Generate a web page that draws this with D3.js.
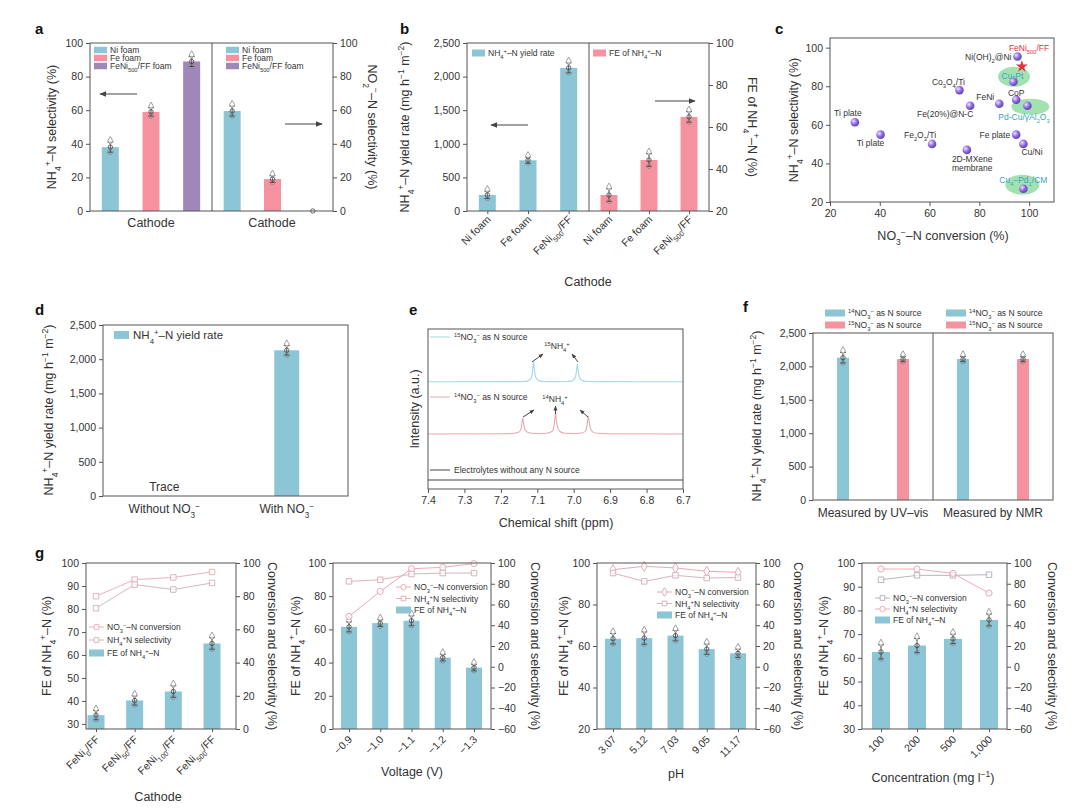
<!DOCTYPE html>
<html><head><meta charset="utf-8">
<script src="https://cdn.jsdelivr.net/npm/d3@7"></script>
<style>body{margin:0;background:#fff} svg{display:block}</style>
</head><body>
<script>
// ---------------- DATA ----------------
// panel a
const aCathodes = ['Ni foam', 'Fe foam', 'FeNi_{500}/FF foam'];
const aNH4Selectivity = [38, 59, 89];
const aNH4Err = [3, 2.5, 3];
const aNO2Selectivity = [59.5, 19, 0];
const aNO2Err = [3, 2, 0.5];
const aTicks = [0, 20, 40, 60, 80, 100];
// panel b
const bCathodes = ['Ni foam', 'Fe foam', 'FeNi_{500}/FF'];
const bYield = [240, 755, 2130];
const bYieldErr = [55, 45, 75];
const bFE = [27.6, 44.3, 64.8];
const bFEErr = [3, 3, 2.5];
const bYieldTicks = [0, 500, 1000, 1500, 2000, 2500];
const bFETicks = [20, 40, 60, 80, 100];
// panel c
const cCatalysts = ['Ti plate', 'Ti plate', 'Fe_2O_3/Ti', 'Co_3O_4/Ti', 'Fe(20%)@N-C', '2D-MXene|membrane',
  'FeNi', 'Ni(OH)_2@Ni', 'FeNi_{500}/FF', 'Cu-Pt', 'CoP', 'Pd-Cu/γAl_2O_3', 'Fe plate', 'Cu/Ni', 'Cu_4–Pd_1/CM'];
const cConversion = [30, 40.3, 61, 72, 76.3, 75, 88, 95.3, 97.1, 93.7, 94.8, 99.3, 94.8, 97.7, 97.7];
const cSelectivity = [61.3, 54.9, 50.1, 78, 69.9, 47, 70.9, 95.4, 90.2, 82.3, 73, 69.9, 54.9, 50.1, 26.9];
const cTicks = [20, 40, 60, 80, 100];
// panel d
const dConditions = ['Without NO_3^−', 'With NO_3^−'];
const dYield = [0, 2130];
const dErr = [0, 70];
// panel e (1H NMR spectra, chemical shift in ppm vs relative intensity)
const eShift15 = [7.40, 7.16, 7.14, 7.125, 7.12, 7.115, 7.112, 7.110, 7.108, 7.105, 7.10, 7.095, 7.08, 7.06,
  7.02, 7.005, 7.0, 6.995, 6.992, 6.990, 6.988, 6.985, 6.98, 6.975, 6.96, 6.93, 6.70];
const eInt15 = [0, 0.01, 0.02, 0.06, 0.13, 0.35, 0.8, 1.25, 0.8, 0.35, 0.13, 0.06, 0.02, 0.01,
  0.02, 0.06, 0.13, 0.33, 0.75, 1.1, 0.75, 0.33, 0.13, 0.06, 0.02, 0.01, 0];
const eShift14 = [7.40, 7.19, 7.165, 7.15, 7.145, 7.142, 7.140, 7.138, 7.134, 7.128, 7.115,
  7.09, 7.075, 7.06, 7.055, 7.052, 7.050, 7.048, 7.044, 7.038, 7.025,
  7.0, 6.985, 6.97, 6.965, 6.962, 6.960, 6.958, 6.954, 6.948, 6.935, 6.91, 6.70];
const eInt14 = [0, 0.01, 0.04, 0.12, 0.3, 0.7, 1.0, 0.7, 0.3, 0.12, 0.04,
  0.01, 0.04, 0.15, 0.4, 0.9, 1.3, 0.9, 0.4, 0.15, 0.04,
  0.01, 0.04, 0.13, 0.35, 0.8, 1.12, 0.8, 0.35, 0.13, 0.04, 0.01, 0];
const eShiftBlank = [7.40, 6.70];
const eIntBlank = [0, 0];
const eTicks = [7.4, 7.3, 7.2, 7.1, 7.0, 6.9, 6.8, 6.7];
// panel f
const fMethods = ['Measured by UV–vis', 'Measured by NMR'];
const fSources = ['^{14}NO_3^− as N source', '^{15}NO_3^− as N source'];
const fYield14 = [2130, 2110];
const fYield15 = [2110, 2110];
const fErr14 = [80, 40];
const fErr15 = [40, 40];
// panel g
const g1Cathodes = ['FeNi_0/FF', 'FeNi_{50}/FF', 'FeNi_{100}/FF', 'FeNi_{500}/FF'];
const g1FE = [33.8, 40.2, 44.1, 65];
const g1FEErr = [2, 2, 2.5, 2.5];
const g1Conversion = [80, 90, 91.3, 94.6];
const g1Selectivity = [72.8, 87, 84, 88];
const g2Voltage = ['−0.9', '−1.0', '−1.1', '−1.2', '−1.3'];
const g2FE = [61.5, 63.8, 65.2, 43, 37];
const g2FEErr = [3, 2, 3, 2, 2];
const g2Conversion = [48.5, 72.6, 94.5, 95.8, 99.4];
const g2Selectivity = [82.3, 83.9, 89.4, 90.3, 90.3];
const g3pH = ['3.07', '5.12', '7.03', '9.05', '11.17'];
const g3FE = [63.5, 63.8, 65, 58.5, 56.5];
const g3FEErr = [2.5, 3, 2.5, 2.5, 2];
const g3Conversion = [93.6, 96.8, 95.2, 92, 91];
const g3Selectivity = [90.3, 82.3, 88.1, 85.5, 86];
const g4Conc = ['100', '200', '500', '1,000'];
const g4FE = [62.5, 65.2, 68, 76];
const g4FEErr = [3, 3, 2, 2.5];
const g4Conversion = [83.9, 88.1, 88.1, 88.7];
const g4Selectivity = [94.2, 94.2, 90, 71];
const gRightTicks = [-60, -40, -20, 0, 20, 40, 60, 80, 100];

// ---------------- STYLE / HELPERS ----------------
const FONT = "'Liberation Sans', Arial, sans-serif";
const TXT = '#333', AX = '#555';
const BLUE = '#8cc5d6', PINK = '#f6929f', PURPLE = '#a087b9';

const svg = d3.select('body').append('svg').attr('width', 1080).attr('height', 811)
  .style('font-family', FONT);
svg.append('rect').attr('width', 1080).attr('height', 811).attr('fill', '#fff');
const defs = svg.append('defs');
function mk(id, w) {
  defs.append('marker').attr('id', id).attr('viewBox', '0 0 10 10').attr('refX', 9).attr('refY', 5)
    .attr('markerWidth', w).attr('markerHeight', w).attr('markerUnits', 'userSpaceOnUse').attr('orient', 'auto')
    .append('path').attr('d', 'M0,1 L10,5 L0,9 z').attr('fill', '#444');
}
mk('arr', 7); mk('arrS', 5);
const rg = defs.append('radialGradient').attr('id', 'ball').attr('cx', '35%').attr('cy', '35%').attr('r', '70%');
rg.append('stop').attr('offset', '0%').attr('stop-color', '#ece4ff');
rg.append('stop').attr('offset', '55%').attr('stop-color', '#8e68e2');
rg.append('stop').attr('offset', '100%').attr('stop-color', '#5a3bb5');

function rich(t, s) {
  let i = 0, buf = '';
  const flush = () => { if (buf) { t.append('tspan').text(buf); buf = ''; } };
  while (i < s.length) {
    const c = s[i];
    if ((c === '_' || c === '^') && i + 1 < s.length) {
      flush();
      let tok;
      if (s[i + 1] === '{') { const j = s.indexOf('}', i + 2); tok = s.slice(i + 2, j); i = j + 1; }
      else { tok = s[i + 1]; i += 2; }
      t.append('tspan').attr('baseline-shift', c === '_' ? 'sub' : 'super').attr('font-size', '68%').text(tok);
    } else { buf += c; i++; }
  }
  flush();
}
function txt(g, x, y, s, o = {}) {
  const t = g.append('text').attr('x', x).attr('y', y)
    .attr('font-size', o.size || 10).attr('fill', o.fill || TXT)
    .attr('text-anchor', o.anchor || 'start').attr('font-family', FONT);
  if (o.weight) t.attr('font-weight', o.weight);
  if (o.rotate != null) t.attr('transform', `rotate(${o.rotate},${x},${y})`);
  if (o.dy) t.attr('dy', o.dy);
  rich(t, s);
  return t;
}
function frame(g, x0, y0, x1, y1) {
  g.append('rect').attr('x', x0).attr('y', y0).attr('width', x1 - x0).attr('height', y1 - y0)
    .attr('fill', 'none').attr('stroke', AX).attr('stroke-width', 1);
}
function vline(g, x, y0, y1) {
  g.append('line').attr('x1', x).attr('x2', x).attr('y1', y0).attr('y2', y1).attr('stroke', AX).attr('stroke-width', 1);
}
function vAxis(g, scale, x, side, ticks, fmt) {
  const ax = (side === 'left' ? d3.axisLeft(scale) : d3.axisRight(scale)).tickValues(ticks)
    .tickSizeOuter(0).tickSizeInner(4).tickPadding(3).tickFormat(fmt);
  const a = g.append('g').attr('transform', `translate(${x},0)`).call(ax);
  a.select('.domain').remove();
  a.selectAll('.tick line').attr('stroke', AX);
  a.selectAll('.tick text').attr('font-size', 10.5).attr('fill', TXT).attr('font-family', FONT);
  return a;
}
function hAxis(g, scale, y, ticks, fmt, size) {
  const ax = d3.axisBottom(scale).tickSizeOuter(0).tickSizeInner(size || 3).tickPadding(4);
  if (ticks) ax.tickValues(ticks);
  ax.tickFormat(fmt || (() => ''));
  const a = g.append('g').attr('transform', `translate(0,${y})`).call(ax);
  a.select('.domain').remove();
  a.selectAll('.tick line').attr('stroke', AX);
  a.selectAll('.tick text').attr('font-size', 10.5).attr('fill', TXT).attr('font-family', FONT);
  return a;
}
function bar(g, cx, w, yTop, yBot, color) {
  g.append('rect').attr('x', cx - w / 2).attr('y', Math.min(yTop, yBot)).attr('width', w)
    .attr('height', Math.abs(yBot - yTop)).attr('fill', color);
}
function errBar(g, cx, sy, v, e) {
  const y1 = sy(v + e), y0 = sy(v - e);
  g.append('line').attr('x1', cx).attr('x2', cx).attr('y1', y1).attr('y2', y0).attr('stroke', '#333').attr('stroke-width', 0.8);
  [y1, y0].forEach(yy => g.append('line').attr('x1', cx - 3).attr('x2', cx + 3).attr('y1', yy).attr('y2', yy)
    .attr('stroke', '#333').attr('stroke-width', 0.8));
  g.append('path').attr('d', d3.symbol(d3.symbolDiamond, 20)()).attr('transform', `translate(${cx},${y1 - 1.5})`)
    .attr('fill', '#fff').attr('fill-opacity', 0.6).attr('stroke', '#888').attr('stroke-width', 0.8);
  g.append('circle').attr('cx', cx).attr('cy', sy(v)).attr('r', 2.2).attr('fill', 'none').attr('stroke', '#444').attr('stroke-width', 0.8);
  g.append('circle').attr('cx', cx).attr('cy', y0).attr('r', 2.2).attr('fill', 'none').attr('stroke', '#888').attr('stroke-width', 0.8);
}
function arrow(g, x1, y1, x2, y2, m) {
  g.append('line').attr('x1', x1).attr('y1', y1).attr('x2', x2).attr('y2', y2)
    .attr('stroke', '#444').attr('stroke-width', 1).attr('marker-end', `url(#${m || 'arr'})`);
}
function swatch(g, x, y, w, h, color) {
  g.append('rect').attr('x', x).attr('y', y - h / 2).attr('width', w).attr('height', h).attr('fill', color);
}
function letter(x, y, s) { txt(svg, x, y, s, { size: 15, weight: 'bold', fill: '#111' }); }
const fmtC = d3.format(',');
const fmtD = d3.format('d');

// ---------------- PANEL a ----------------
{
  const g = svg.append('g');
  const y = d3.scaleLinear().domain([0, 100]).range([211, 43]);
  const xL = d3.scalePoint().domain(aCathodes).range([90, 212]).padding(0.5);
  const xR = d3.scalePoint().domain(aCathodes).range([212, 333]).padding(0.5);
  const cols = [BLUE, PINK, PURPLE];
  aCathodes.forEach((c, i) => {
    bar(g, xL(c), 17, y(aNH4Selectivity[i]), y(0), cols[i]);
    bar(g, xR(c), 17, y(aNO2Selectivity[i]), y(0), cols[i]);
  });
  aCathodes.forEach((c, i) => {
    errBar(g, xL(c), y, aNH4Selectivity[i], aNH4Err[i]);
    if (aNO2Selectivity[i] > 0) errBar(g, xR(c), y, aNO2Selectivity[i], aNO2Err[i]);
    else g.append('circle').attr('cx', xR(c)).attr('cy', y(0)).attr('r', 2.2).attr('fill', '#fff').attr('stroke', '#444').attr('stroke-width', 0.8);
  });
  frame(g, 90, 43, 333, 211); vline(g, 212, 43, 211);
  vAxis(g, y, 90, 'left', aTicks, fmtD);
  vAxis(g, y, 333, 'right', aTicks, fmtD);
  [94, 226].forEach(lx => aCathodes.forEach((c, i) => {
    swatch(g, lx, 50 + i * 8, 13, 6.5, cols[i]);
    txt(g, lx + 16, 53 + i * 8, c, { size: 8.5 });
  }));
  arrow(g, 137, 94, 100, 94); arrow(g, 285, 124, 322, 124);
  txt(g, 151, 227, 'Cathode', { size: 12.5, anchor: 'middle' });
  txt(g, 272, 227, 'Cathode', { size: 12.5, anchor: 'middle' });
  txt(g, 52, 127, 'NH_4^+–N selectivity (%)', { size: 12.5, anchor: 'middle', rotate: -90, dy: '0.35em' });
  txt(g, 372, 127, 'NO_2^−–N selectivity (%)', { size: 12.5, anchor: 'middle', rotate: 90, dy: '0.35em' });
  letter(35, 34, 'a');
}

// ---------------- PANEL b ----------------
{
  const g = svg.append('g');
  const yL = d3.scaleLinear().domain([0, 2500]).range([211, 43]);
  const yR = d3.scaleLinear().domain([20, 100]).range([211, 43]);
  const xL = d3.scalePoint().domain(bCathodes).range([467, 589]).padding(0.5);
  const xR = d3.scalePoint().domain(bCathodes).range([589, 709]).padding(0.5);
  bCathodes.forEach((c, i) => {
    bar(g, xL(c), 17, yL(bYield[i]), yL(0), BLUE);
    bar(g, xR(c), 17, yR(bFE[i]), yR(20), PINK);
  });
  bCathodes.forEach((c, i) => {
    errBar(g, xL(c), yL, bYield[i], bYieldErr[i]);
    errBar(g, xR(c), yR, bFE[i], bFEErr[i]);
  });
  frame(g, 467, 43, 709, 211); vline(g, 589, 43, 211);
  vAxis(g, yL, 467, 'left', bYieldTicks, fmtC);
  vAxis(g, yR, 709, 'right', bFETicks, fmtD);
  hAxis(g, xL, 211); hAxis(g, xR, 211);
  bCathodes.forEach(c => {
    txt(g, xL(c) + 4, 220, c, { size: 10.5, anchor: 'end', rotate: -45 });
    txt(g, xR(c) + 4, 220, c, { size: 10.5, anchor: 'end', rotate: -45 });
  });
  swatch(g, 472, 53, 13, 7, BLUE); txt(g, 488, 56, 'NH_4^+–N yield rate', { size: 8.5 });
  swatch(g, 593, 53, 13, 7, PINK); txt(g, 609, 56, 'FE of NH_4^+–N', { size: 8.5 });
  arrow(g, 528, 125, 491, 125); arrow(g, 655, 101, 695, 101);
  txt(g, 588, 286, 'Cathode', { size: 12.5, anchor: 'middle' });
  txt(g, 405, 127, 'NH_4^+–N yield rate (mg h^{−1} m^{−2})', { size: 12.5, anchor: 'middle', rotate: -90, dy: '0.35em' });
  txt(g, 752, 127, 'FE of NH_4^+–N (%)', { size: 12.5, anchor: 'middle', rotate: 90, dy: '0.35em' });
  letter(400, 34, 'b');
}

// ---------------- PANEL c ----------------
{
  const g = svg.append('g');
  const x = d3.scaleLinear().domain([20, 110]).range([830, 1054]);
  const y = d3.scaleLinear().domain([20, 105]).range([202, 38]);
  // label layout: [dx, dy, anchor, color, ellipse [dx,dy,rx,ry] or null]
  const CY = '#3aa3c4', RD = '#e2323a';
  const lay = [
    [-7, -6, 'middle', TXT], [-10, 11, 'middle', TXT], [-12, -6, 'middle', TXT], [-11, -5, 'middle', TXT],
    [-25, 11, 'middle', TXT], [-15, 12, 'start', TXT], [-5, -4, 'end', TXT], [-6, 3, 'end', TXT],
    [-13, -16, 'start', RD], [-1, -3, 'middle', CY, [0.6, -5, 16, 10]], [0, -4, 'middle', TXT],
    [-29, 14, 'start', CY, [3, 1, 19, 8]], [-6, 3, 'end', TXT], [-2, 11, 'start', TXT],
    [0, -6, 'middle', CY, [-1, -4, 17, 10]]
  ];
  cCatalysts.forEach((n, i) => {
    const L = lay[i];
    if (L[4]) g.append('ellipse').attr('cx', x(cConversion[i]) + L[4][0]).attr('cy', y(cSelectivity[i]) + L[4][1])
      .attr('rx', L[4][2]).attr('ry', L[4][3]).attr('fill', '#92dca2').attr('opacity', 0.85);
  });
  cCatalysts.forEach((n, i) => {
    const px = x(cConversion[i]), py = y(cSelectivity[i]);
    if (i === 8) g.append('path').attr('d', d3.symbol(d3.symbolStar, 45)()).attr('transform', `translate(${px},${py})`).attr('fill', RD);
    else g.append('circle').attr('cx', px).attr('cy', py).attr('r', 4.3).attr('fill', 'url(#ball)');
  });
  cCatalysts.forEach((n, i) => {
    const L = lay[i];
    const px = x(cConversion[i]), py = y(cSelectivity[i]);
    n.split('|').forEach((part, k) => txt(g, px + L[0], py + L[1] + k * 9, part, { size: 8.5, anchor: L[2], fill: L[3] }));
  });
  frame(g, 830, 38, 1054, 202);
  vAxis(g, y, 830, 'left', cTicks, fmtD);
  hAxis(g, x, 202, cTicks, fmtD, 4);
  txt(g, 943, 240, 'NO_3^−–N conversion (%)', { size: 12.5, anchor: 'middle' });
  txt(g, 794, 120, 'NH_4^+–N selectivity (%)', { size: 12.5, anchor: 'middle', rotate: -90, dy: '0.35em' });
  letter(775, 34, 'c');
}

// ---------------- PANEL d ----------------
{
  const g = svg.append('g');
  const y = d3.scaleLinear().domain([0, 2500]).range([496, 325]);
  const x = d3.scalePoint().domain(dConditions).range([103, 348]).padding(0.5);
  dConditions.forEach((c, i) => { if (dYield[i] > 0) { bar(g, x(c), 25, y(dYield[i]), y(0), BLUE); errBar(g, x(c), y, dYield[i], dErr[i]); } });
  txt(g, x(dConditions[0]), 491, 'Trace', { size: 12, anchor: 'middle' });
  frame(g, 103, 325, 348, 496);
  vAxis(g, y, 103, 'left', bYieldTicks, fmtC);
  dConditions.forEach(c => txt(g, x(c), 513, c, { size: 12, anchor: 'middle' }));
  swatch(g, 114, 335, 15, 8, BLUE); txt(g, 133, 339, 'NH_4^+–N yield rate', { size: 11.5 });
  txt(g, 49, 410, 'NH_4^+–N yield rate (mg h^{−1} m^{−2})', { size: 12.5, anchor: 'middle', rotate: -90, dy: '0.35em' });
  letter(35, 315, 'd');
}

// ---------------- PANEL e ----------------
{
  const g = svg.append('g');
  const x = d3.scaleLinear().domain([7.4, 6.7]).range([428, 683]);
  const y = d3.scaleLinear().domain([0, 10]).range([489, 329]);
  const line = (off) => d3.line().x(d => x(d[0])).y(d => y(d[1] + off)).curve(d3.curveMonotoneX);
  const spectra = [
    [eShift15, eInt15, 6.7, '#a6d9e4'],
    [eShift14, eInt14, 3.44, '#e7a9b3'],
    [eShiftBlank, eIntBlank, 0.56, '#444']
  ];
  spectra.forEach(([sx, si, off, col]) => {
    g.append('path').datum(sx.map((v, i) => [v, si[i]])).attr('d', line(off)).attr('fill', 'none')
      .attr('stroke', col).attr('stroke-width', 1.1);
  });
  frame(g, 428, 329, 683, 489);
  hAxis(g, x, 489, eTicks, d3.format('.1f'), 4);
  // legend-like labels
  [[337, '#a6d9e4', '^{15}NO_3^− as N source'], [397, '#e7a9b3', '^{14}NO_3^− as N source'],
   [470, '#444', 'Electrolytes without any N source']].forEach(([yy, col, s]) => {
    g.append('line').attr('x1', 430).attr('x2', 450).attr('y1', yy).attr('y2', yy).attr('stroke', col).attr('stroke-width', 1);
    txt(g, 454, yy + 3, s, { size: 8.5 });
  });
  txt(g, 557, 349, '^{15}NH_4^+', { size: 8.5, anchor: 'middle' });
  arrow(g, 532, 362, 543, 354, 'arrS'); arrow(g, 578, 362, 572, 354, 'arrS');
  txt(g, 555, 402, '^{14}NH_4^+', { size: 8.5, anchor: 'middle' });
  arrow(g, 523, 417, 534, 410, 'arrS'); arrow(g, 555.5, 414, 555.5, 406, 'arrS'); arrow(g, 588, 417, 580, 410, 'arrS');
  txt(g, 556, 527, 'Chemical shift (ppm)', { size: 12.5, anchor: 'middle' });
  txt(g, 415, 409, 'Intensity (a.u.)', { size: 12.5, anchor: 'middle', rotate: -90, dy: '0.35em' });
  letter(409, 315, 'e');
}

// ---------------- PANEL f ----------------
{
  const g = svg.append('g');
  const y = d3.scaleLinear().domain([0, 2500]).range([500, 333]);
  const halves = [[813, 933], [933, 1053]];
  fMethods.forEach((m, k) => {
    const x = d3.scalePoint().domain(fSources).range(halves[k]).padding(0.5);
    bar(g, x(fSources[0]), 12, y(fYield14[k]), y(0), BLUE);
    bar(g, x(fSources[1]), 12, y(fYield15[k]), y(0), PINK);
    errBar(g, x(fSources[0]), y, fYield14[k], fErr14[k]);
    errBar(g, x(fSources[1]), y, fYield15[k], fErr15[k]);
    txt(g, (halves[k][0] + halves[k][1]) / 2, 517, m, { size: 12, anchor: 'middle' });
    const lx = k === 0 ? 825 : 946;
    fSources.forEach((s, j) => {
      swatch(g, lx, 313 + j * 12, 20, 7, j === 0 ? BLUE : PINK);
      txt(g, lx + 23, 316 + j * 12, s, { size: 8.5 });
    });
  });
  frame(g, 813, 333, 1053, 500); vline(g, 933, 333, 500);
  vAxis(g, y, 813, 'left', bYieldTicks, fmtC);
  txt(g, 757, 416, 'NH_4^+–N yield rate (mg h^{−1} m^{−2})', { size: 12.5, anchor: 'middle', rotate: -90, dy: '0.35em' });
  letter(743, 312, 'f');
}

// ---------------- PANEL g ----------------
function drawG(c) {
  const g = svg.append('g');
  const top = 563, bot = 729;
  const yL = d3.scaleLinear().domain(c.leftDomain).range([bot, top]);
  const yR = d3.scaleLinear().domain(c.rightDomain).range([bot, top]);
  const x = d3.scalePoint().domain(c.cats).range(c.xRange);
  c.cats.forEach((k, i) => bar(g, x(k), c.bw, yL(c.fe[i]), bot, BLUE));
  c.cats.forEach((k, i) => errBar(g, x(k), yL, c.fe[i], c.feErr[i]));
  const ser = [[c.conv, c.convStyle], [c.sel, c.selStyle]];
  ser.forEach(([vals, st]) => {
    g.append('path').datum(vals).attr('d', d3.line().x((d, i) => x(c.cats[i])).y(d => yR(d)))
      .attr('fill', 'none').attr('stroke', st.color).attr('stroke-width', 1);
    vals.forEach((v, i) => g.append('path').attr('d', d3.symbol(st.shape, 30)())
      .attr('transform', `translate(${x(c.cats[i])},${yR(v)})`).attr('fill', '#fff').attr('fill-opacity', 0.7)
      .attr('stroke', st.color).attr('stroke-width', 1));
  });
  frame(g, c.x0, top, c.x1, bot);
  vAxis(g, yL, c.x0, 'left', c.leftTicks, fmtD);
  vAxis(g, yR, c.x1, 'right', c.rightTicks, fmtD);
  hAxis(g, x, bot);
  c.cats.forEach(k => txt(g, x(k) + 4, bot + 11, k, { size: 10.5, anchor: 'end', rotate: -45 }));
  // legend
  const [lx, ly, lh] = c.legend;
  [[c.convStyle, 'NO_3^−–N conversion'], [c.selStyle, 'NH_4^+N selectivity']].forEach(([st, s], j) => {
    const yy = ly + j * lh;
    g.append('line').attr('x1', lx).attr('x2', lx + 15).attr('y1', yy).attr('y2', yy).attr('stroke', st.color);
    g.append('path').attr('d', d3.symbol(st.shape, 22)()).attr('transform', `translate(${lx + 7.5},${yy})`)
      .attr('fill', '#fff').attr('stroke', st.color);
    txt(g, lx + 18, yy + 3, s, { size: 8.5 });
  });
  swatch(g, lx, ly + 2 * lh, 15, 7, BLUE);
  txt(g, lx + 18, ly + 2 * lh + 3, 'FE of NH_4^+–N', { size: 8.5 });
  txt(g, c.xl[0], c.xl[1], c.xLabel, { size: 12.5, anchor: 'middle' });
  txt(g, c.leftLabelX, 646, 'FE of NH_4^+–N (%)', { size: 12.5, anchor: 'middle', rotate: -90, dy: '0.35em' });
  txt(g, c.rightLabelX, 646, 'Conversion and selectivity (%)', { size: 12.5, anchor: 'middle', rotate: 90, dy: '0.35em' });
}
const SQ = d3.symbolSquare, CI = d3.symbolCircle, DI = d3.symbolDiamond;
drawG({ cats: g1Cathodes, fe: g1FE, feErr: g1FEErr, conv: g1Conversion, sel: g1Selectivity,
  x0: 86, x1: 236, xRange: [96, 212], bw: 17, leftDomain: [27.8, 100], leftTicks: [30, 40, 50, 60, 70, 80, 90, 100],
  rightDomain: [0, 100], rightTicks: [0, 20, 40, 60, 80, 100],
  convStyle: { color: '#e9b3bd', shape: SQ }, selStyle: { color: '#d2b8bd', shape: SQ },
  legend: [89, 627, 13], xLabel: 'Cathode', xl: [158, 801], leftLabelX: 47, rightLabelX: 272 });
drawG({ cats: g2Voltage, fe: g2FE, feErr: g2FEErr, conv: g2Conversion, sel: g2Selectivity,
  x0: 333, x1: 491, xRange: [349, 474], bw: 16, leftDomain: [0, 100], leftTicks: [0, 20, 40, 60, 80, 100],
  rightDomain: [-60, 100], rightTicks: gRightTicks,
  convStyle: { color: '#eeaab6', shape: CI }, selStyle: { color: '#dcb3ba', shape: SQ },
  legend: [396, 587, 11.5], xLabel: 'Voltage (V)', xl: [412, 776], leftLabelX: 296, rightLabelX: 535 });
drawG({ cats: g3pH, fe: g3FE, feErr: g3FEErr, conv: g3Conversion, sel: g3Selectivity,
  x0: 597, x1: 756, xRange: [613, 738], bw: 16, leftDomain: [20, 100], leftTicks: [20, 40, 60, 80, 100],
  rightDomain: [-60, 100], rightTicks: gRightTicks,
  convStyle: { color: '#e8aab4', shape: DI }, selStyle: { color: '#d6b5bb', shape: SQ },
  legend: [657, 592, 11.5], xLabel: 'pH', xl: [676, 778], leftLabelX: 564, rightLabelX: 798 });
drawG({ cats: g4Conc, fe: g4FE, feErr: g4FEErr, conv: g4Conversion, sel: g4Selectivity,
  x0: 862, x1: 1007, xRange: [881, 989], bw: 18, leftDomain: [30, 100], leftTicks: [30, 40, 50, 60, 70, 80, 90, 100],
  rightDomain: [-60, 100], rightTicks: gRightTicks,
  convStyle: { color: '#b3b7bf', shape: SQ }, selStyle: { color: '#eeaab6', shape: CI },
  legend: [875, 598, 11], xLabel: 'Concentration (mg l^{−1})', xl: [933, 782], leftLabelX: 824, rightLabelX: 1052 });
letter(35, 558, 'g');
</script>
</body></html>
